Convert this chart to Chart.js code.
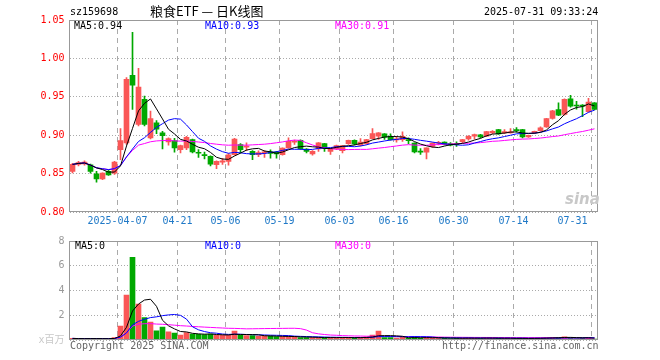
<!DOCTYPE html>
<html>
<head>
<meta charset="utf-8">
<script src="https://cdn.jsdelivr.net/npm/chart.js@4.4.0/dist/chart.umd.min.js"></script>
<style>
body{margin:0;background:#fff;width:660px;height:360px;position:relative;overflow:hidden;font-family:"DejaVu Sans Mono",monospace;}
canvas{position:absolute;left:0}
.t{position:absolute;font-size:10px;line-height:12px;white-space:nowrap}
</style>
</head>
<body>
<canvas id="k" width="660" height="232" style="top:0"></canvas>
<canvas id="v" width="660" height="130" style="top:230px"></canvas>

<div class="t" style="left:70px;top:6px;color:#000">sz159698</div>
<div class="t" style="left:150px;top:4px;font-size:13px;line-height:14px;font-family:'Noto Sans CJK SC',sans-serif;color:#000">粮食ETF — 日K线图</div>
<div class="t" style="left:484px;top:6px;color:#000">2025-07-31 09:33:24</div>

<div class="t" id="ma5" style="left:74px;top:20px;color:#000"></div>
<div class="t" id="ma10" style="left:205px;top:20px;color:#00f"></div>
<div class="t" id="ma30" style="left:335px;top:20px;color:#f0f"></div>

<div class="t" style="left:75px;top:240px;color:#000">MA5:0</div>
<div class="t" style="left:205px;top:240px;color:#00f">MA10:0</div>
<div class="t" style="left:335px;top:240px;color:#f0f">MA30:0</div>

<div class="t" style="left:565px;top:190px;font:italic bold 15px 'DejaVu Sans',sans-serif;color:#c8c8c8">sina</div>

<div class="t" style="left:70px;top:340px;color:#666">Copyright 2025 SINA.COM</div>
<div class="t" style="left:442px;top:340px;color:#666">http://finance.sina.com.cn</div>

<script>
// trading days shown
var dates = ['03-25','03-26','03-27','03-28','03-31','04-01','04-02','04-03',
  '04-07','04-08','04-09','04-10','04-11','04-14','04-15','04-16','04-17','04-18',
  '04-21','04-22','04-23','04-24','04-25','04-28','04-29','04-30',
  '05-06','05-07','05-08','05-09','05-12','05-13','05-14','05-15','05-16',
  '05-19','05-20','05-21','05-22','05-23','05-26','05-27','05-28','05-29','05-30',
  '06-03','06-04','06-05','06-06','06-09','06-10','06-11','06-12','06-13',
  '06-16','06-17','06-18','06-19','06-20','06-23','06-24','06-25','06-26','06-27','06-30',
  '07-01','07-02','07-03','07-04','07-07','07-08','07-09','07-10','07-11',
  '07-14','07-15','07-16','07-17','07-18','07-21','07-22','07-23','07-24','07-25',
  '07-28','07-29','07-30','07-31'];

var tickDates = ['04-07','04-21','05-06','05-19','06-03','06-16','06-30','07-14','07-31'];
var tickText  = ['2025-04-07','04-21','05-06','05-19','06-03','06-16','06-30','07-14','07-31'];
var priceTicks = [0.80,0.85,0.90,0.95,1.00,1.05];
var volTicks = [0,2,4,6,8];

var openP = [0.853,0.862,0.8625,0.8615,0.8497,0.8432,0.8528,0.8506,0.8811,0.890,
0.978,0.9139,0.9466,0.8965,0.916,0.903,0.8912,0.893,0.8812,0.8834,
0.8943,0.877,0.874,0.8724,0.8615,0.865,0.8659,0.8746,0.8877,0.8845,
0.879,0.8746,0.877,0.8785,0.878,0.8746,0.8833,0.891,0.8933,0.882,
0.8755,0.882,0.889,0.879,0.882,0.880,0.889,0.8933,0.887,0.889,
0.8956,0.8986,0.9017,0.8986,0.894,0.8943,0.8935,0.8899,0.8785,0.878,
0.8855,0.8895,0.891,0.889,0.888,0.8917,0.895,0.8986,0.9004,0.8986,
0.903,0.9073,0.903,0.903,0.9065,0.9073,0.8977,0.903,0.906,0.9108,
0.9218,0.9335,0.927,0.9475,0.9388,0.9382,0.9305,0.9423];

var highP = [0.8635,0.866,0.8665,0.8625,0.8528,0.851,0.8545,0.866,0.9086,0.975,
1.034,0.987,0.951,0.9313,0.919,0.905,0.8965,0.896,0.887,0.8986,
0.895,0.8812,0.878,0.873,0.8665,0.870,0.876,0.896,0.889,0.890,
0.880,0.8795,0.880,0.881,0.879,0.8836,0.8965,0.8935,0.894,0.8825,
0.880,0.8905,0.8895,0.8825,0.887,0.8865,0.8935,0.894,0.8955,0.8945,
0.9087,0.9035,0.902,0.9017,0.8986,0.9044,0.8965,0.890,0.8825,0.8836,
0.890,0.892,0.8915,0.8905,0.8915,0.8945,0.8995,0.9015,0.901,0.905,
0.906,0.9075,0.9073,0.9085,0.910,0.9075,0.900,0.9055,0.9108,0.922,
0.9325,0.9423,0.9475,0.952,0.944,0.940,0.948,0.9425];

var lowP = [0.851,0.860,0.861,0.8506,0.8388,0.842,0.8475,0.849,0.868,0.888,
0.9335,0.912,0.912,0.895,0.902,0.882,0.887,0.878,0.877,0.8812,
0.877,0.871,0.869,0.860,0.8563,0.862,0.861,0.874,0.877,0.880,
0.8681,0.872,0.871,0.870,0.870,0.874,0.883,0.888,0.8815,0.877,
0.874,0.879,0.879,0.875,0.881,0.877,0.888,0.8875,0.886,0.888,
0.895,0.8945,0.8945,0.8935,0.891,0.892,0.889,0.877,0.875,0.869,
0.884,0.8875,0.8875,0.886,0.8855,0.890,0.8935,0.895,0.8965,0.898,
0.902,0.901,0.902,0.9025,0.904,0.8965,0.897,0.902,0.905,0.910,
0.921,0.9255,0.926,0.9365,0.934,0.924,0.930,0.933];

var closeP = [0.862,0.8645,0.865,0.8528,0.8432,0.8506,0.8484,0.865,0.8929,0.9728,
0.965,0.9627,0.9139,0.9217,0.908,0.8995,0.8956,0.8834,0.8864,0.8973,
0.8781,0.8765,0.8735,0.8624,0.8659,0.8665,0.8746,0.8951,0.8812,0.8858,
0.8746,0.8775,0.8778,0.8764,0.8755,0.8833,0.892,0.8925,0.8821,0.879,
0.879,0.890,0.8833,0.882,0.8865,0.8864,0.8933,0.8885,0.8912,0.8943,
0.9021,0.903,0.8973,0.8943,0.8945,0.8986,0.893,0.8781,0.878,0.8836,
0.8899,0.890,0.8877,0.887,0.8878,0.8943,0.8986,0.9008,0.8977,0.9047,
0.9052,0.9017,0.9047,0.904,0.906,0.8977,0.8999,0.9052,0.9095,0.9218,
0.9318,0.9261,0.9466,0.9379,0.938,0.9378,0.9431,0.9335];

// volume, millions
var volume = [0.13,0.10,0.10,0.12,0.13,0.10,0.08,0.20,1.13,3.62,
6.68,2.90,1.82,1.45,0.75,1.05,0.67,0.56,0.40,0.59,
0.48,0.45,0.43,0.48,0.38,0.38,0.38,0.72,0.38,0.35,
0.35,0.32,0.32,0.32,0.27,0.27,0.27,0.27,0.20,0.20,
0.20,0.20,0.18,0.20,0.20,0.22,0.20,0.15,0.20,0.25,
0.40,0.72,0.20,0.20,0.15,0.22,0.15,0.25,0.15,0.20,
0.18,0.15,0.15,0.12,0.15,0.15,0.18,0.15,0.12,0.18,
0.15,0.15,0.13,0.12,0.13,0.15,0.12,0.15,0.15,0.20,
0.22,0.20,0.25,0.18,0.12,0.15,0.22,0.08];

var RED = '#fa5656', GREEN = '#00a800';
var colors = dates.map(function(d,i){ return closeP[i] >= openP[i] ? RED : GREEN; });
var tickIdx = tickDates.map(function(d){ return dates.indexOf(d); });

// moving average (shorter window at the start)
function ma(arr, n)
{
    return arr.map(function(v,i){
        var s = arr.slice(Math.max(0,i-n+1), i+1);
        return s.reduce(function(a,b){return a+b;},0)/s.length;
    });
}

var ma5 = ma(closeP,5), ma10 = ma(closeP,10), ma30 = ma(closeP,30);
document.getElementById('ma5').textContent = 'MA5:' + ma5[ma5.length-1].toFixed(2);
document.getElementById('ma10').textContent = 'MA10:' + ma10[ma10.length-1].toFixed(2);
document.getElementById('ma30').textContent = 'MA30:' + ma30[ma30.length-1].toFixed(2);

var FONT = '"DejaVu Sans Mono", "Noto Sans CJK SC", monospace';

var frame = {
    id: 'frame',
    afterDraw: function(c){
        var a = c.chartArea, ctx = c.ctx;
        ctx.save();
        ctx.strokeStyle = '#999';
        ctx.lineWidth = 1;
        ctx.strokeRect(a.left, a.top + 0.5, a.right - a.left, a.bottom - a.top - 1);
        ctx.restore();
    }
};

var dateLabels = {
    id: 'dateLabels',
    afterDraw: function(c){
        var sx = c.scales.x, ctx = c.ctx, a = c.chartArea;
        ctx.save();
        ctx.font = '10px ' + FONT;
        ctx.fillStyle = '#2079c7';
        ctx.textAlign = 'center';
        ctx.textBaseline = 'middle';
        tickIdx.forEach(function(i,k){
            var x = sx.getPixelForValue(i) - 3;
            var w = ctx.measureText(tickText[k]).width;
            x = Math.min(x, a.right - 10 - w/2);
            ctx.fillText(tickText[k], x, a.bottom + 9);
        });
        ctx.restore();
    }
};

function line(data, color)
{
    return {type:'line', data:data, borderColor:color, borderWidth:1, pointRadius:0, tension:0, order:0};
}

function xScale()
{
    return {
        offset: true,
        ticks: {display:false, autoSkip:false},
        grid: {offset:true, drawTicks:false, lineWidth:1,
               color: function(ctx){ return tickIdx.indexOf(ctx.index) >= 0 ? '#aaa' : 'rgba(0,0,0,0)'; }},
        border: {display:false, dash:[5,4]},
        afterFit: function(s){ s.height = 20; }
    };
}

new Chart(document.getElementById('k'), {
    type: 'bar',
    data: {
        labels: dates,
        datasets: [
            line(ma5,'#000'),
            line(ma10,'#00f'),
            line(ma30,'#f0f'),
            {data: dates.map(function(d,i){ return [lowP[i],highP[i]]; }), backgroundColor: colors,
             barThickness:1, grouped:false, order:2},
            {data: dates.map(function(d,i){ return [openP[i],closeP[i]]; }), backgroundColor: colors,
             barThickness:5, grouped:false, minBarLength:1, order:1}
        ]
    },
    options: {
        responsive:false, animation:false, devicePixelRatio:1,
        layout: {padding:{top:20, right:62.5, left:0, bottom:0}},
        plugins: {legend:{display:false}, tooltip:{enabled:false}},
        scales: {
            x: xScale(),
            y: {
                min:0.80, max:1.05,
                afterBuildTicks: function(s){ s.ticks = priceTicks.map(function(v){ return {value:v}; }); },
                ticks: {color:'#f00', padding:5, font:{family:FONT, size:10},
                        callback:function(v){ return v.toFixed(2); }},
                grid: {drawTicks:false, color:'#aaa', lineWidth:1},
                border: {display:false, dash:[1,2]},
                afterFit: function(s){ s.width = 69.5; }
            }
        }
    },
    plugins: [frame, dateLabels]
});

var ma5v = ma(volume,5), ma10v = ma(volume,10), ma30v = ma(volume,30);

new Chart(document.getElementById('v'), {
    type: 'bar',
    data: {
        labels: dates,
        datasets: [
            line(ma5v,'#000'),
            line(ma10v,'#00f'),
            line(ma30v,'#f0f'),
            {data: volume, backgroundColor: colors, barThickness:5, grouped:false, order:1}
        ]
    },
    options: {
        responsive:false, animation:false, devicePixelRatio:1,
        layout: {padding:{top:10, right:62.5, left:0, bottom:0}},
        plugins: {legend:{display:false}, tooltip:{enabled:false}},
        scales: {
            x: xScale(),
            y: {
                min:0, max:8,
                afterBuildTicks: function(s){ s.ticks = volTicks.map(function(v){ return {value:v}; }); },
                ticks: {padding:5, font:{family:FONT, size:10},
                        color:function(ctx){ return ctx.tick && ctx.tick.value === 0 ? '#c8c8c8' : '#999'; },
                        callback:function(v){ return v === 0 ? 'x百万' : String(v); }},
                grid: {drawTicks:false, color:'#aaa', lineWidth:1},
                border: {display:false, dash:[1,2]},
                afterFit: function(s){ s.width = 69.5; }
            }
        }
    },
    plugins: [frame]
});
</script>
</body>
</html>
